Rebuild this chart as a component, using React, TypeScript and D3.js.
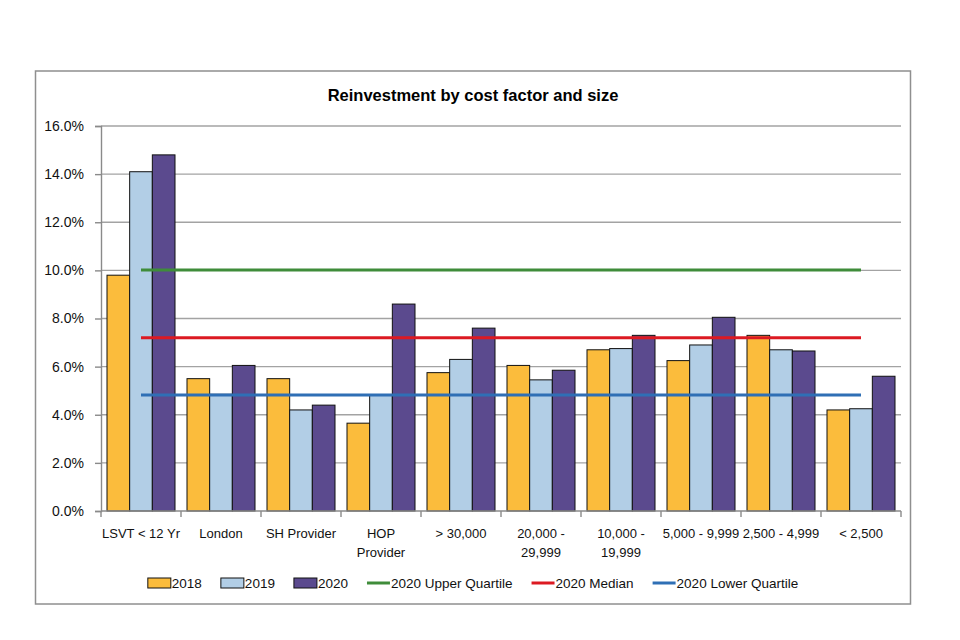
import * as d3 from "d3";
import { useEffect, useRef } from "react";

const categories = ["LSVT < 12 Yr", "London", "SH Provider", "HOP Provider", "> 30,000", "20,000 - 29,999", "10,000 - 19,999", "5,000 - 9,999", "2,500 - 4,999", "< 2,500"];
const labelLines = [["LSVT < 12 Yr"], ["London"], ["SH Provider"], ["HOP", "Provider"], ["> 30,000"], ["20,000 -", "29,999"], ["10,000 -", "19,999"], ["5,000 - 9,999"], ["2,500 - 4,999"], ["< 2,500"]];
const years = ["2018", "2019", "2020"];
const values2018 = [9.8, 5.5, 5.5, 3.65, 5.75, 6.05, 6.7, 6.25, 7.3, 4.2];
const values2019 = [14.1, 4.85, 4.2, 4.8, 6.3, 5.45, 6.75, 6.9, 6.7, 4.25];
const values2020 = [14.8, 6.05, 4.4, 8.6, 7.6, 5.85, 7.3, 8.05, 6.65, 5.6];
const refNames = ["2020 Upper Quartile", "2020 Median", "2020 Lower Quartile"];
const refValues = [10.02, 7.2, 4.82];
const yTicks = [0, 2, 4, 6, 8, 10, 12, 14, 16];

const barColors = ["#FBBC3C", "#B2CEE6", "#5B4A8E"];
const refColors = ["#3F8C3A", "#DC1A22", "#2F6FB5"];
const FONT = "'Liberation Sans', Arial, sans-serif";

export default function App() {
    const ref = useRef(null);
    const width = 960,
        height = 640;

    useEffect(() => {
        const svg = d3.select(ref.current);
        svg.selectAll("*").remove();

        const left = 101, right = 901, top = 126, bottom = 511;

        // outer frame
        svg.append("rect")
            .attr("x", 35.5).attr("y", 71)
            .attr("width", 875).attr("height", 533)
            .attr("fill", "white")
            .attr("stroke", "#8f8f8f")
            .attr("stroke-width", 1.5);

        svg.append("text")
            .attr("x", 473).attr("y", 101)
            .attr("text-anchor", "middle")
            .style("font-family", FONT)
            .style("font-weight", "bold")
            .style("font-size", "16.5px")
            .text("Reinvestment by cost factor and size");

        const x = d3.scaleBand()
            .domain(categories)
            .range([left, right])
            .paddingInner(0.15)
            .paddingOuter(0.075);
        const xSub = d3.scaleBand()
            .domain(years)
            .range([0, x.bandwidth()]);
        const y = d3.scaleLinear().domain([0, 16]).range([bottom, top]);

        // gridlines
        svg.append("g")
            .selectAll("line")
            .data(yTicks.filter(t => t > 0))
            .join("line")
            .attr("x1", left).attr("x2", right)
            .attr("y1", d => y(d)).attr("y2", d => y(d))
            .attr("stroke", "#a3a3a3")
            .attr("stroke-width", 1.4);

        // y axis
        const yAxis = svg.append("g")
            .attr("transform", `translate(${left},0)`)
            .call(d3.axisLeft(y).tickValues(yTicks).tickSize(6).tickPadding(11).tickFormat(d => d3.format(".1f")(d as number) + "%"));
        yAxis.select(".domain").attr("stroke", "#8a8a8a").attr("stroke-width", 1.4);
        yAxis.selectAll(".tick line").attr("stroke", "#8a8a8a").attr("stroke-width", 1.4);
        yAxis.selectAll(".tick text")
            .style("font-family", FONT)
            .style("font-size", "14px")
            .attr("fill", "#111");

        // bars
        const series = [values2018, values2019, values2020];
        series.forEach((vals, si) => {
            svg.append("g")
                .selectAll("rect")
                .data(vals)
                .join("rect")
                .attr("x", (_d, i) => (x(categories[i]) as number) + (xSub(years[si]) as number))
                .attr("y", d => y(d))
                .attr("width", xSub.bandwidth())
                .attr("height", d => bottom - y(d))
                .attr("fill", barColors[si])
                .attr("stroke", "#111")
                .attr("stroke-width", 1);
        });

        // x axis
        svg.append("line")
            .attr("x1", left).attr("x2", right)
            .attr("y1", bottom).attr("y2", bottom)
            .attr("stroke", "#8a8a8a").attr("stroke-width", 1.4);
        const step = x.step();
        svg.append("g")
            .selectAll("line")
            .data(d3.range(categories.length + 1))
            .join("line")
            .attr("x1", i => left + i * step).attr("x2", i => left + i * step)
            .attr("y1", bottom).attr("y2", bottom + 6)
            .attr("stroke", "#8a8a8a").attr("stroke-width", 1.4);

        const labels = svg.append("g")
            .selectAll("text")
            .data(categories)
            .join("text")
            .attr("x", d => (x(d) as number) + x.bandwidth() / 2)
            .attr("y", 538)
            .attr("text-anchor", "middle")
            .style("font-family", FONT)
            .style("font-size", "13px")
            .attr("fill", "#111");
        labels.selectAll("tspan")
            .data((_d, i) => labelLines[i])
            .join("tspan")
            .attr("x", function () { return (this as any).parentNode.getAttribute("x"); })
            .attr("dy", (_d, i) => (i === 0 ? 0 : 19))
            .text(d => d);

        // reference lines
        const cx0 = (x(categories[0]) as number) + x.bandwidth() / 2;
        const cx1 = (x(categories[categories.length - 1]) as number) + x.bandwidth() / 2;
        svg.append("g")
            .selectAll("line")
            .data(refValues)
            .join("line")
            .attr("x1", cx0).attr("x2", cx1)
            .attr("y1", d => y(d)).attr("y2", d => y(d))
            .attr("stroke", (_d, i) => refColors[i])
            .attr("stroke-width", 3);

        // legend
        const legend = svg.append("g");
        const items = [
            ...years.map((n, i) => ({ name: n, color: barColors[i], kind: "bar" })),
            ...refNames.map((n, i) => ({ name: n, color: refColors[i], kind: "line" })),
        ];
        let cursor = 0;
        const ly = 583;
        items.forEach(item => {
            const g = legend.append("g").attr("transform", `translate(${cursor},0)`);
            if (item.kind === "bar") {
                g.append("rect")
                    .attr("x", 0).attr("y", ly - 5)
                    .attr("width", 23).attr("height", 10)
                    .attr("fill", item.color)
                    .attr("stroke", "#111").attr("stroke-width", 1);
            } else {
                g.append("line")
                    .attr("x1", 0).attr("x2", 23)
                    .attr("y1", ly).attr("y2", ly)
                    .attr("stroke", item.color).attr("stroke-width", 3);
            }
            const t = g.append("text")
                .attr("x", 24).attr("y", ly + 5)
                .style("font-family", FONT)
                .style("font-size", "13.5px")
                .attr("fill", "#111")
                .text(item.name);
            const w = (t.node() as SVGTextElement).getComputedTextLength();
            cursor += 24 + w + 19;
        });
        const total = cursor - 19;
        legend.attr("transform", `translate(${473 - total / 2},0)`);
    }, []);

    return (
        <div style={{ position: "absolute", left: 0, top: 0 }}>
            <svg ref={ref} width={width} height={height} style={{ display: "block", background: "white" }}>
            </svg>
        </div>
    );
}
